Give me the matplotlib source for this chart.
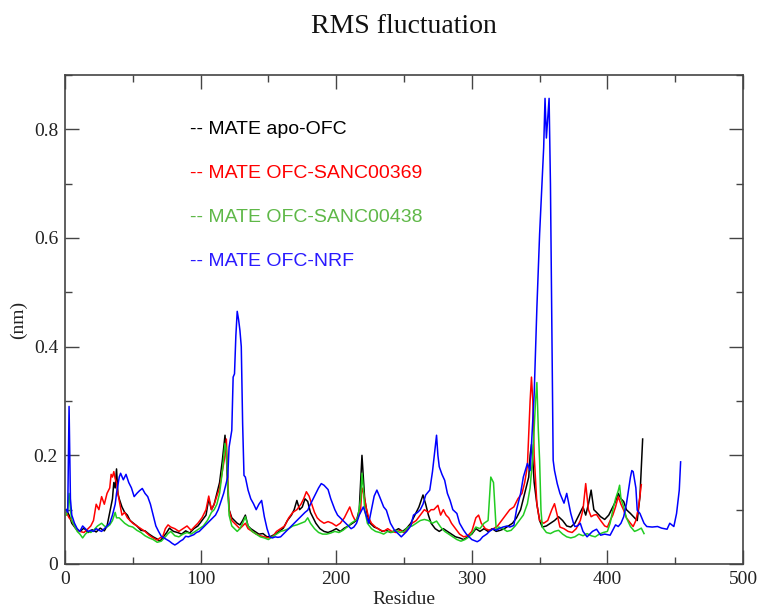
import matplotlib

matplotlib.use("Agg")
import matplotlib.pyplot as plt
from matplotlib.ticker import MultipleLocator

# --- data (residue, RMSF in nm) ---
res_apo = [1, 3, 5, 8, 11, 14, 17, 20, 23, 26, 29, 31, 33, 35, 36, 37, 38, 39, 40, 42,
           44, 46, 48, 50, 53, 56, 59, 62, 65, 68, 70, 72, 75, 77, 80, 83, 86, 89, 92, 95,
           98, 101, 104, 106, 108, 110, 112, 114, 116, 118, 119, 120, 121, 123, 125, 127, 129, 131, 133, 135,
           137, 140, 143, 146, 149, 152, 155, 158, 161, 164, 167, 169, 171, 173, 175, 177, 179, 181, 183, 185,
           188, 191, 194, 197, 200, 203, 206, 209, 212, 215, 217, 218, 219, 220, 221, 223, 225, 228, 231, 234,
           237, 240, 243, 246, 249, 252, 255, 258, 261, 263, 264, 266, 268, 270, 273, 276, 279, 282, 285, 288,
           291, 294, 297, 300, 303, 306, 309, 312, 315, 318, 321, 324, 327, 330, 333, 336, 338, 340, 342, 343,
           344, 345, 346, 348, 350, 352, 355, 358, 361, 364, 367, 370, 373, 376, 379, 382, 384, 386, 388, 390,
           392, 395, 398, 401, 404, 406, 408, 410, 412, 414, 417, 420, 422, 424, 426]
rmsf_apo = [0.100, 0.090, 0.075, 0.065, 0.060, 0.066, 0.058, 0.063, 0.059, 0.066, 0.061, 0.070, 0.095, 0.120, 0.150, 0.140, 0.175, 0.130, 0.120, 0.105,
            0.095, 0.090, 0.080, 0.076, 0.070, 0.062, 0.061, 0.055, 0.050, 0.046, 0.042, 0.048, 0.058, 0.066, 0.060, 0.058, 0.055, 0.061, 0.057, 0.065,
            0.070, 0.080, 0.090, 0.120, 0.100, 0.110, 0.130, 0.150, 0.190, 0.237, 0.200, 0.140, 0.100, 0.085, 0.080, 0.075, 0.072, 0.080, 0.090, 0.070,
            0.065, 0.060, 0.055, 0.056, 0.050, 0.051, 0.055, 0.060, 0.066, 0.080, 0.090, 0.100, 0.117, 0.100, 0.105, 0.120, 0.115, 0.095, 0.085, 0.075,
            0.065, 0.060, 0.058, 0.061, 0.065, 0.060, 0.066, 0.070, 0.075, 0.080, 0.100, 0.150, 0.200, 0.160, 0.120, 0.090, 0.075, 0.068, 0.065, 0.060,
            0.062, 0.058, 0.061, 0.065, 0.060, 0.066, 0.075, 0.090, 0.105, 0.120, 0.127, 0.110, 0.090, 0.075, 0.065, 0.060, 0.065, 0.060, 0.055, 0.050,
            0.048, 0.045, 0.050, 0.055, 0.065, 0.060, 0.065, 0.060, 0.065, 0.060, 0.062, 0.065, 0.070, 0.075, 0.085, 0.100, 0.120, 0.140, 0.160, 0.200,
            0.220, 0.190, 0.150, 0.110, 0.080, 0.068, 0.070, 0.075, 0.080, 0.087, 0.080, 0.070, 0.068, 0.075, 0.090, 0.105, 0.090, 0.110, 0.136, 0.100,
            0.095, 0.087, 0.082, 0.090, 0.105, 0.115, 0.130, 0.120, 0.115, 0.100, 0.093, 0.085, 0.080, 0.124, 0.230]

res_369 = [1, 3, 5, 8, 11, 14, 17, 19, 21, 23, 25, 27, 29, 31, 33, 34, 35, 36, 37, 38,
           39, 40, 42, 44, 46, 48, 50, 53, 56, 59, 62, 65, 68, 70, 72, 74, 76, 78, 81, 84,
           87, 90, 93, 96, 98, 101, 104, 106, 108, 110, 112, 114, 116, 118, 119, 120, 121, 123, 125, 127,
           129, 131, 133, 135, 138, 141, 144, 147, 150, 153, 156, 159, 162, 165, 168, 171, 174, 176, 178, 180,
           182, 184, 186, 188, 191, 194, 197, 200, 203, 206, 208, 210, 212, 214, 216, 218, 219, 220, 221, 222,
           224, 226, 229, 232, 235, 238, 241, 244, 247, 250, 253, 256, 259, 262, 265, 268, 270, 272, 275, 277,
           279, 281, 283, 285, 288, 291, 294, 297, 300, 303, 305, 307, 310, 313, 316, 319, 322, 325, 328, 331,
           334, 337, 339, 341, 343, 344, 345, 346, 348, 350, 353, 356, 359, 361, 363, 365, 368, 371, 374, 377,
           380, 382, 384, 386, 388, 390, 392, 395, 398, 400, 402, 404, 406, 408, 410, 412, 414, 417, 419, 421,
           423, 425]
rmsf_369 = [0.095, 0.085, 0.080, 0.065, 0.060, 0.058, 0.065, 0.070, 0.080, 0.110, 0.100, 0.124, 0.110, 0.130, 0.140, 0.165, 0.160, 0.170, 0.157, 0.150,
            0.130, 0.117, 0.090, 0.095, 0.085, 0.080, 0.075, 0.070, 0.065, 0.060, 0.053, 0.048, 0.044, 0.048, 0.050, 0.065, 0.072, 0.068, 0.065, 0.060,
            0.065, 0.070, 0.062, 0.070, 0.075, 0.085, 0.100, 0.125, 0.100, 0.110, 0.125, 0.140, 0.170, 0.200, 0.230, 0.160, 0.100, 0.080, 0.075, 0.070,
            0.065, 0.070, 0.075, 0.065, 0.060, 0.055, 0.052, 0.050, 0.048, 0.050, 0.060, 0.065, 0.070, 0.085, 0.095, 0.100, 0.110, 0.120, 0.133, 0.125,
            0.110, 0.095, 0.085, 0.080, 0.075, 0.078, 0.075, 0.070, 0.075, 0.085, 0.095, 0.105, 0.090, 0.080, 0.085, 0.100, 0.140, 0.133, 0.120, 0.105,
            0.085, 0.075, 0.068, 0.063, 0.060, 0.065, 0.060, 0.058, 0.062, 0.058, 0.065, 0.075, 0.080, 0.090, 0.100, 0.095, 0.100, 0.100, 0.108, 0.090,
            0.100, 0.090, 0.085, 0.075, 0.065, 0.055, 0.050, 0.052, 0.060, 0.085, 0.090, 0.075, 0.065, 0.062, 0.065, 0.070, 0.080, 0.090, 0.100, 0.105,
            0.120, 0.130, 0.150, 0.180, 0.300, 0.344, 0.300, 0.200, 0.110, 0.080, 0.075, 0.080, 0.100, 0.111, 0.090, 0.068, 0.065, 0.060, 0.058, 0.065,
            0.080, 0.100, 0.148, 0.100, 0.087, 0.090, 0.091, 0.080, 0.070, 0.068, 0.080, 0.090, 0.105, 0.124, 0.110, 0.099, 0.085, 0.075, 0.069, 0.080,
            0.105, 0.146]

res_438 = [1, 2, 3, 4, 5, 7, 9, 11, 13, 15, 17, 19, 21, 24, 27, 29, 31, 33, 35, 37,
           38, 40, 42, 44, 47, 50, 53, 56, 59, 62, 65, 68, 71, 74, 76, 78, 81, 84, 87, 90,
           93, 96, 99, 102, 105, 108, 110, 112, 114, 116, 118, 119, 120, 121, 123, 125, 127, 129, 131, 133,
           135, 138, 141, 144, 147, 150, 153, 156, 159, 162, 165, 168, 171, 174, 177, 179, 181, 184, 187, 190,
           193, 196, 199, 202, 205, 208, 211, 214, 216, 218, 219, 220, 221, 223, 226, 229, 232, 235, 238, 241,
           244, 247, 250, 253, 256, 259, 262, 265, 268, 271, 274, 277, 280, 283, 286, 289, 292, 295, 298, 301,
           303, 306, 309, 312, 314, 316, 318, 320, 323, 326, 329, 332, 335, 338, 341, 343, 345, 347, 348, 349,
           350, 351, 352, 355, 358, 361, 364, 367, 370, 373, 376, 379, 382, 385, 388, 391, 394, 397, 400, 402,
           404, 406, 408, 409, 410, 412, 414, 417, 420, 422, 425, 427]
rmsf_438 = [0.090, 0.100, 0.130, 0.100, 0.080, 0.070, 0.060, 0.055, 0.048, 0.055, 0.060, 0.058, 0.062, 0.070, 0.075, 0.070, 0.068, 0.072, 0.080, 0.095,
            0.085, 0.085, 0.080, 0.075, 0.070, 0.068, 0.062, 0.058, 0.052, 0.048, 0.045, 0.040, 0.042, 0.050, 0.056, 0.060, 0.052, 0.050, 0.055, 0.058,
            0.055, 0.060, 0.065, 0.070, 0.080, 0.095, 0.100, 0.110, 0.130, 0.170, 0.222, 0.210, 0.150, 0.090, 0.070, 0.065, 0.060, 0.065, 0.075, 0.087,
            0.070, 0.060, 0.055, 0.050, 0.048, 0.045, 0.050, 0.055, 0.060, 0.062, 0.065, 0.070, 0.072, 0.075, 0.078, 0.085, 0.075, 0.065, 0.058, 0.055,
            0.055, 0.057, 0.060, 0.058, 0.062, 0.068, 0.075, 0.080, 0.085, 0.120, 0.167, 0.140, 0.100, 0.075, 0.065, 0.060, 0.058, 0.055, 0.060, 0.058,
            0.062, 0.058, 0.060, 0.068, 0.070, 0.075, 0.080, 0.082, 0.080, 0.075, 0.079, 0.068, 0.060, 0.055, 0.050, 0.045, 0.042, 0.045, 0.050, 0.060,
            0.068, 0.065, 0.075, 0.080, 0.160, 0.150, 0.063, 0.068, 0.065, 0.060, 0.062, 0.070, 0.080, 0.090, 0.111, 0.140, 0.200, 0.300, 0.334, 0.250,
            0.191, 0.100, 0.068, 0.058, 0.056, 0.060, 0.062, 0.055, 0.050, 0.048, 0.050, 0.055, 0.052, 0.056, 0.052, 0.050, 0.055, 0.058, 0.060, 0.075,
            0.099, 0.120, 0.135, 0.145, 0.120, 0.105, 0.085, 0.069, 0.060, 0.062, 0.066, 0.056]

res_nrf = [1, 2, 3, 4, 5, 7, 9, 11, 13, 15, 17, 19, 21, 23, 25, 27, 29, 31, 33, 35,
           37, 38, 40, 41, 43, 45, 47, 49, 51, 53, 55, 57, 59, 61, 63, 65, 67, 69, 71, 73,
           75, 77, 79, 81, 83, 85, 87, 89, 91, 93, 95, 97, 99, 101, 103, 105, 107, 109, 111, 113,
           115, 117, 119, 120, 121, 123, 124, 125, 126, 127, 128, 129, 130, 131, 132, 133, 135, 137, 139, 141,
           143, 145, 147, 149, 151, 153, 155, 157, 159, 161, 163, 165, 167, 169, 171, 173, 175, 177, 179, 181,
           183, 185, 187, 189, 191, 194, 196, 199, 201, 203, 205, 207, 209, 211, 213, 215, 217, 219, 220, 222,
           224, 226, 228, 230, 232, 235, 237, 240, 243, 246, 248, 250, 252, 255, 257, 260, 262, 264, 266, 267,
           269, 271, 274, 275, 276, 278, 280, 282, 284, 286, 289, 291, 294, 296, 298, 300, 304, 306, 308, 311,
           313, 316, 318, 320, 323, 326, 328, 331, 333, 336, 338, 341, 343, 346, 348, 350, 353, 354, 355, 357,
           358, 359, 360, 361, 363, 365, 368, 370, 373, 375, 376, 378, 380, 382, 385, 387, 389, 392, 395, 398,
           402, 406, 408, 410, 412, 414, 417, 418, 419, 421, 422, 424, 427, 429, 433, 437, 440, 444, 446, 449,
           451, 453, 454]
rmsf_nrf = [0.100, 0.095, 0.290, 0.120, 0.090, 0.075, 0.065, 0.060, 0.070, 0.065, 0.060, 0.062, 0.060, 0.065, 0.062, 0.060, 0.065, 0.070, 0.075, 0.090,
            0.110, 0.130, 0.160, 0.167, 0.155, 0.165, 0.150, 0.140, 0.124, 0.130, 0.135, 0.139, 0.130, 0.124, 0.110, 0.090, 0.070, 0.060, 0.051, 0.048,
            0.045, 0.042, 0.038, 0.035, 0.038, 0.042, 0.045, 0.051, 0.050, 0.052, 0.054, 0.058, 0.060, 0.065, 0.070, 0.075, 0.080, 0.085, 0.090, 0.100,
            0.115, 0.130, 0.150, 0.160, 0.215, 0.246, 0.344, 0.350, 0.420, 0.465, 0.450, 0.430, 0.400, 0.258, 0.163, 0.160, 0.136, 0.120, 0.111, 0.100,
            0.110, 0.117, 0.087, 0.065, 0.050, 0.048, 0.050, 0.049, 0.050, 0.055, 0.060, 0.065, 0.070, 0.075, 0.080, 0.085, 0.090, 0.095, 0.099, 0.110,
            0.120, 0.130, 0.140, 0.148, 0.145, 0.137, 0.120, 0.100, 0.090, 0.085, 0.080, 0.075, 0.070, 0.065, 0.068, 0.075, 0.090, 0.100, 0.105, 0.090,
            0.075, 0.100, 0.125, 0.136, 0.124, 0.105, 0.099, 0.075, 0.062, 0.055, 0.050, 0.055, 0.060, 0.070, 0.090, 0.095, 0.100, 0.110, 0.127, 0.130,
            0.136, 0.170, 0.237, 0.200, 0.179, 0.165, 0.154, 0.130, 0.117, 0.100, 0.093, 0.075, 0.062, 0.055, 0.050, 0.045, 0.041, 0.044, 0.050, 0.055,
            0.060, 0.065, 0.062, 0.065, 0.068, 0.070, 0.068, 0.071, 0.100, 0.130, 0.160, 0.185, 0.172, 0.313, 0.472, 0.607, 0.766, 0.857, 0.784, 0.857,
            0.699, 0.435, 0.191, 0.172, 0.148, 0.130, 0.112, 0.130, 0.093, 0.075, 0.069, 0.070, 0.075, 0.060, 0.050, 0.055, 0.060, 0.064, 0.053, 0.055,
            0.053, 0.072, 0.069, 0.075, 0.087, 0.110, 0.160, 0.172, 0.170, 0.140, 0.099, 0.093, 0.075, 0.069, 0.068, 0.069, 0.066, 0.064, 0.075, 0.069,
            0.093, 0.136, 0.188]

series = [
    ("MATE apo-OFC", res_apo, rmsf_apo, "#000000", "#000000"),
    ("MATE OFC-SANC00369", res_369, rmsf_369, "#ff0000", "#ff0000"),
    ("MATE OFC-SANC00438", res_438, rmsf_438, "#22cc22", "#5fb848"),
    ("MATE OFC-NRF", res_nrf, rmsf_nrf, "#0000ff", "#2a1aff"),
]

serif = "Liberation Serif"

fig = plt.figure(figsize=(7.6, 6.07), dpi=100)
ax = fig.add_axes([65 / 760, 1 - 564 / 607, 678 / 760, 489 / 607])

for label, xs, ys, col, _ in series:
    ax.plot(xs, ys, color=col, lw=1.1)

ax.set_xlim(0, 500)
ax.set_ylim(0, 0.9)
ax.xaxis.set_major_locator(MultipleLocator(100))
ax.xaxis.set_minor_locator(MultipleLocator(50))
ax.yaxis.set_major_locator(MultipleLocator(0.2))
ax.yaxis.set_minor_locator(MultipleLocator(0.1))
ax.tick_params(which="both", direction="in", top=True, right=True, colors="#444444",
               labelcolor="#222222", width=1.0)
ax.tick_params(which="major", length=10, labelsize=14, pad=5)
ax.tick_params(which="minor", length=5)
for lab in ax.get_xticklabels() + ax.get_yticklabels():
    lab.set_family(serif)
ax.yaxis.set_major_formatter(plt.FuncFormatter(lambda v, p: "0" if v == 0 else f"{v:.1f}"))
for sp in ax.spines.values():
    sp.set_color("#444444")
    sp.set_linewidth(1.2)

ax.set_title("RMS fluctuation", family=serif, fontsize=20, pad=30, color="#111111")
ax.set_xlabel("Residue", family=serif, fontsize=14, labelpad=2, color="#222222")
ax.set_ylabel("(nm)", family=serif, fontsize=14, labelpad=5, color="#222222")

# grace-style legend: plain text lines
for i, (label, _, _, _, tcol) in enumerate(series):
    ax.text(0.184, 0.888 - i * 0.09, "-- " + label, transform=ax.transAxes,
            color=tcol, fontsize=14, family="Liberation Sans", va="center", ha="left")

fig.savefig("out.png", dpi=100, facecolor="white")
